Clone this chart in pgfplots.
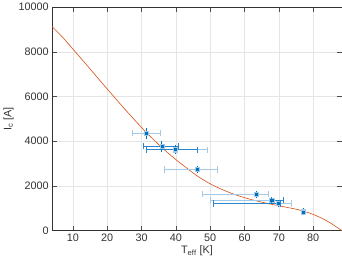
\documentclass[border=0pt]{standalone}
\usepackage{pgfplots}
\pgfplotsset{compat=1.18}
\usepackage{pgfplotstable}
\usepackage{fontspec}
\setmainfont{Liberation Sans}
\definecolor{mblue}{HTML}{0072BD}
\definecolor{morange}{HTML}{D95319}
\definecolor{lblue}{HTML}{A3CAE8}
\definecolor{dblue}{HTML}{2A85CC}
\pgfplotstableread{
x y xm xp ye
31.4 4364 4.1 4.2 130
35.9 3772 5.5 4.8 125
39.9 3624 8.4 9.3 100
46.2 2737 9.6 5.9 50
63.3 1627 15.5 3.7 40
67.9 1361 17.9 3.3 35
69.8 1213 18.8 3.7 35
77.2 843 0.6 0.6 35
}\data
\begin{document}
\begin{tikzpicture}
\begin{axis}[
  scale only axis, width=280bp, height=216bp,
  xmin=4, xmax=88.3, ymin=0, ymax=10000,
  xtick={10,20,...,80}, ytick={0,2000,...,10000},
  scaled y ticks=false,
  /pgf/number format/1000 sep={},
  /pgf/number format/assume math mode=true,
  tick align=inside, tick style={gray!60!black},
  grid=major, major grid style={gray!20, line width=0.5pt},
  axis line style={gray!40!black},
  ticklabel style={font=\fontsize{10.5}{12}\selectfont, text=black!80},
  label style={font=\fontsize{10.5}{12}\selectfont, text=black!80},
  xlabel={T$_{\mathrm{eff}}$ [K]}, ylabel={I$_{\mathrm{c}}$ [A]},
  xlabel style={yshift=3pt}, ylabel style={yshift=-2pt},
]
\addplot[morange, line width=0.6pt, smooth, tension=0.5] coordinates {
(4,9130) (7,8660) (10,8130) (13,7600) (16,7060) (19,6520) (22,5990) (25,5460) (28,4950) (31,4460) (34,4000) (37,3570) (40,3180) (43,2820) (46,2470) (49,2180) (52,1940) (55,1740) (58,1570) (61,1430) (64,1310) (67,1205) (70,1110) (73,1020) (76,920) (79,780) (82,590) (85,340) (88.3,0)};
\addplot[only marks, color=lblue, mark=square*, mark size=2pt, mark options={fill=lblue, draw=lblue},
  error bars/.cd, x dir=both, x explicit, error mark=|, error bar style={draw=lblue, line width=0.6pt}, error mark options={draw=lblue, mark size=3pt, line width=0.6pt}]
  table[x=x, y=y, x error minus=xm, x error plus=xp] {\data};
% darker horizontal uncertainty bars
\addplot[dblue, line width=0.6pt, mark=|, mark size=3pt, mark options={solid, dblue}] coordinates {(30.4,3772) (40.7,3772)};
\addplot[dblue, line width=0.6pt, mark=|, mark size=3pt, mark options={solid, dblue}] coordinates {(31.5,3624) (46.3,3624)};
\addplot[dblue, line width=0.6pt, mark=|, mark size=3pt, mark options={solid, dblue}] coordinates {(67.9,1361) (71.2,1361)};
\addplot[dblue, line width=0.6pt, mark=|, mark size=3pt, mark options={solid, dblue}] coordinates {(51.0,1213) (70.3,1213)};
\addplot[only marks, color=mblue, mark=square*, mark size=1pt, mark options={fill=mblue, draw=mblue},
  error bars/.cd, y dir=both, y explicit, error mark=-, error bar style={draw=mblue, line width=0.6pt}, error mark options={draw=mblue, mark size=2.5pt, line width=0.6pt}]
  table[x=x, y=y, y error=ye] {\data};
\end{axis}
\end{tikzpicture}
\end{document}
